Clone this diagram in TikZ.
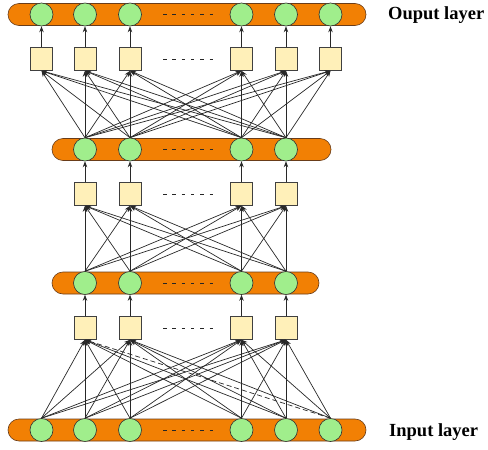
\documentclass[tikz,border=0pt]{standalone}
\usepackage{fontspec}
\setmainfont{Liberation Serif}
\usetikzlibrary{arrows.meta}
\definecolor{barorange}{RGB}{242,128,4}
\definecolor{barline}{RGB}{105,60,25}
\definecolor{unitgreen}{RGB}{160,238,140}
\definecolor{boxyellow}{RGB}{255,240,185}
\definecolor{wirecol}{RGB}{40,40,40}
\begin{document}
\begin{tikzpicture}[x=1pt,y=-1pt,
  layerbar/.style={draw=barline, fill=barorange, rounded corners=11pt,
    minimum height=22pt, inner sep=0pt, line width=0.6pt},
  unit/.style={circle, draw=black!80, fill=unitgreen, minimum size=23pt,
    inner sep=0pt, line width=0.6pt},
  gate/.style={rectangle, draw=black!75, fill=boxyellow, minimum width=22pt,
    minimum height=23pt, inner sep=0pt, line width=0.6pt},
  wire/.style={draw=wirecol, line width=0.7pt, -{Stealth[length=6pt,width=4.5pt]}},
  dotsline/.style={draw=black!85, line width=0.6pt, dash pattern=on 3.5pt off 5.8pt},
  layerlabel/.style={font=\bfseries\fontsize{18.5}{20}\selectfont, anchor=west, inner sep=0pt}]
\useasboundingbox (0,0) rectangle (488,450);

% layer bars
\node[layerbar, minimum width=358pt] (bar4) at (187,14.5) {};
\node[layerbar, minimum width=279pt] (bar3) at (191.5,149.5) {};
\node[layerbar, minimum width=267pt] (bar2) at (185.5,283) {};
\node[layerbar, minimum width=358pt] (bar1) at (187,430) {};

% units of the wide layers (six each)
\foreach \x [count=\i] in {41.5,85,130,241.5,286,330.5} {
  \node[unit] (in\i) at (\x,430) {};
  \node[unit] (out\i) at (\x,14.5) {};
  \node[gate] (gc\i) at (\x,59) {};
}
% units of the hidden layers (four each)
\foreach \x [count=\i] in {85,130,241.5,286} {
  \node[gate] (ga\i) at (\x,328) {};
  \node[unit] (ha\i) at (\x,283) {};
  \node[gate] (gb\i) at (\x,194) {};
  \node[unit] (hb\i) at (\x,149.5) {};
}

% ellipsis marks
\foreach \y in {14.5,59,149.5,194,283,328,430}
  \draw[dotsline] (163,\y) -- (213,\y);

% input layer -> first gates
\foreach \i in {1,...,6} {
  \foreach \j in {1,...,4} {
    \ifnum\i=6 \ifnum\j=1 \else
      \draw[wire] (in\i.north) -- (ga\j.south);
    \fi\else
      \draw[wire] (in\i.north) -- (ga\j.south);
    \fi
  }
}
\draw[wire, dash pattern=on 5pt off 3pt] (in6.north) -- (ga1.south);

% hidden layers
\foreach \j in {1,...,4} {
  \draw[wire] (ga\j.north) -- (ha\j.south);
  \draw[wire] (gb\j.north) -- (hb\j.south);
  \foreach \i in {1,...,4}
    \draw[wire] (ha\i.north) -- (gb\j.south);
}

% last hidden layer -> output gates
\foreach \j in {1,...,6} {
  \draw[wire] (gc\j.north) -- (out\j.south);
  \foreach \i in {1,...,4}
    \draw[wire] (hb\i.north) -- (gc\j.south);
}

% layer names
\node[layerlabel] (outname) at (388,15.5) {Ouput layer};
\node[layerlabel] (inname) at (389,432) {Input layer};
\end{tikzpicture}
\end{document}
